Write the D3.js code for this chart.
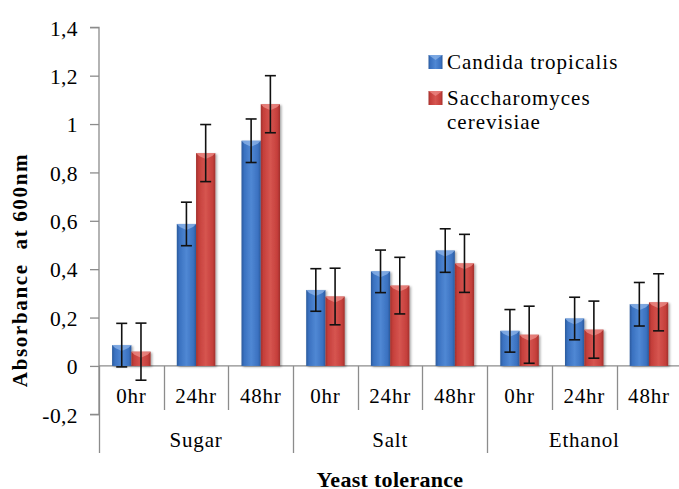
<!DOCTYPE html>
<html>
<head>
<meta charset="utf-8">
<script src="https://cdn.jsdelivr.net/npm/d3@7"></script>
<style>
  html, body { margin: 0; padding: 0; background: #fff; }
  svg { display: block; }
</style>
</head>
<body>
<svg id="chart" width="679" height="489"></svg>
<script>
// Treatments and sampling times
const groups = ["Sugar", "Salt", "Ethanol"];
const hours = ["0hr", "24hr", "48hr"];
const seriesNames = ["Candida tropicalis", "Saccharomyces cerevisiae"];

// Mean absorbance at 600nm, ordered Sugar 0/24/48, Salt 0/24/48, Ethanol 0/24/48
const candida = [0.086, 0.587, 0.931, 0.314, 0.391, 0.477, 0.145, 0.196, 0.255];
const saccharomyces = [0.059, 0.880, 1.082, 0.287, 0.332, 0.424, 0.129, 0.150, 0.263];

// Error bar half-widths
const candidaErr = [0.090, 0.090, 0.090, 0.088, 0.088, 0.090, 0.088, 0.088, 0.090];
const saccharomycesErr = [0.118, 0.118, 0.118, 0.117, 0.117, 0.120, 0.118, 0.118, 0.118];

const yTicks = [-0.2, 0, 0.2, 0.4, 0.6, 0.8, 1, 1.2, 1.4];

const FONT = '"Liberation Serif"';

const svg = d3.select("#chart");
const defs = svg.append("defs");

// Apply the serif face directly on a text selection
const serif = (sel, size, bold, spacing) => sel
  .style("font-family", FONT)
  .style("font-size", size + "px")
  .style("font-weight", bold ? "bold" : "normal")
  .style("letter-spacing", (spacing || 0) + "px")
  .style("fill", "#000");

const colors = [
  { edge: "#2b5a9c", mid: "#3a71c0", light: "#5088d4", top: "#8fb6ea" },
  { edge: "#a1302c", mid: "#c53f3b", light: "#d65550", top: "#ee8f8a" }
];
colors.forEach((c, i) => {
  const g = defs.append("linearGradient").attr("id", "barGrad" + i)
    .attr("x1", "0").attr("x2", "1").attr("y1", "0").attr("y2", "0");
  g.append("stop").attr("offset", "0%").attr("stop-color", c.edge);
  g.append("stop").attr("offset", "14%").attr("stop-color", c.mid);
  g.append("stop").attr("offset", "50%").attr("stop-color", c.light);
  g.append("stop").attr("offset", "86%").attr("stop-color", c.mid);
  g.append("stop").attr("offset", "100%").attr("stop-color", c.edge);
});
const shadow = defs.append("filter").attr("id", "barShadow")
  .attr("x", "-30%").attr("y", "-10%").attr("width", "160%").attr("height", "130%");
shadow.append("feDropShadow").attr("dx", 1.5).attr("dy", 1).attr("stdDeviation", 1.2)
  .attr("flood-color", "#000").attr("flood-opacity", 0.35);

// Scales
const keys = [];
groups.forEach(g => hours.forEach(h => keys.push(g + "|" + h)));

const x = d3.scaleBand().domain(keys).range([99, 681.3]).padding(0);
const xs = d3.scaleBand().domain(seriesNames).range([0, x.bandwidth()])
  .paddingInner(0).paddingOuter(0.68);
const y = d3.scaleLinear().domain([-0.2, 1.4]).range([414.3, 27.3]);

const axisColor = "#8c8c8c";

// Y axis
const yAxis = d3.axisLeft(y).tickValues(yTicks).tickSize(9).tickPadding(12)
  .tickFormat(v => String(+v.toFixed(1)).replace(".", ","));
const yg = svg.append("g").attr("transform", "translate(99,0)").call(yAxis);
yg.select(".domain").attr("stroke", axisColor).attr("stroke-width", 1.3)
  .attr("d", `M-9,${y(1.4)}H0V${y(-0.2)}H-9`);
yg.selectAll(".tick line").attr("stroke", axisColor).attr("stroke-width", 1.3);
serif(yg.selectAll(".tick text"), 21.5, false, 0.4).attr("dy", "0.36em");

// Category axis along y = 0
const xg = svg.append("g");
xg.append("line").attr("x1", 99).attr("x2", 679)
  .attr("y1", y(0)).attr("y2", y(0)).attr("stroke", axisColor).attr("stroke-width", 1.3);

// Dividers between hour bands and between groups
keys.forEach((k, i) => {
  if (i === 0) return;
  const xv = Math.round(x(k)) + 0.5;
  const groupEdge = i % hours.length === 0;
  xg.append("line").attr("x1", xv).attr("x2", xv)
    .attr("y1", y(0)).attr("y2", groupEdge ? 453 : 410)
    .attr("stroke", axisColor).attr("stroke-width", 1.3);
});
xg.append("line").attr("x1", 99.5).attr("x2", 99.5)
  .attr("y1", y(0)).attr("y2", 453).attr("stroke", axisColor).attr("stroke-width", 1.3);

// Hour labels
serif(xg.selectAll("text.hour").data(keys).join("text").attr("class", "hour"), 21, false, 0.8)
  .attr("x", d => x(d) + x.bandwidth() / 2).attr("y", 403)
  .attr("text-anchor", "middle")
  .text(d => d.split("|")[1]);

// Group labels
serif(xg.selectAll("text.group").data(groups).join("text").attr("class", "group"), 21, false, 0.8)
  .attr("x", g => {
    const a = x(g + "|" + hours[0]);
    const b = x(g + "|" + hours[hours.length - 1]) + x.bandwidth();
    return (a + b) / 2;
  })
  .attr("y", 447).attr("text-anchor", "middle")
  .text(g => g);

// Bars
const seriesData = [
  { name: seriesNames[0], values: candida, err: candidaErr },
  { name: seriesNames[1], values: saccharomyces, err: saccharomycesErr }
];

seriesData.forEach((s, si) => {
  const g = svg.append("g");
  const c = colors[si];
  const w = xs.bandwidth();
  keys.forEach((k, i) => {
    const v = s.values[i];
    const x0 = x(k) + xs(s.name);
    const yTop = y(v), yBase = y(0);
    g.append("rect").attr("x", x0).attr("y", yTop)
      .attr("width", w).attr("height", yBase - yTop)
      .attr("fill", `url(#barGrad${si})`).attr("filter", "url(#barShadow)");
    // bevelled top highlight
    g.append("path")
      .attr("d", `M${x0},${yTop}H${x0 + w}L${x0 + w - 3},${yTop + 3}L${x0 + w / 2},${yTop + 6}L${x0 + 3},${yTop + 3}Z`)
      .attr("fill", c.top).attr("opacity", 0.75);
  });
});

// Error bars
seriesData.forEach(s => {
  const g = svg.append("g").attr("stroke", "#111").attr("stroke-width", 1.6);
  const w = xs.bandwidth();
  keys.forEach((k, i) => {
    const cx = x(k) + xs(s.name) + w / 2;
    const hi = y(s.values[i] + s.err[i]);
    const lo = y(s.values[i] - s.err[i]);
    g.append("line").attr("x1", cx).attr("x2", cx).attr("y1", hi).attr("y2", lo);
    g.append("line").attr("x1", cx - 5.5).attr("x2", cx + 5.5).attr("y1", hi).attr("y2", hi);
    g.append("line").attr("x1", cx - 5.5).attr("x2", cx + 5.5).attr("y1", lo).attr("y2", lo);
  });
});

// Axis titles
serif(svg.append("text"), 21, true, 1.65)
  .attr("transform", "translate(26.5,270) rotate(-90)")
  .attr("text-anchor", "middle")
  .style("white-space", "pre")
  .text("Absorbance  at 600nm");
serif(svg.append("text"), 22, true, 0.3)
  .attr("x", 390).attr("y", 486.5).attr("text-anchor", "middle")
  .text("Yeast tolerance");

// Legend
const legend = svg.append("g");
const legendRows = [
  { si: 0, lines: ["Candida tropicalis"], y: 55 },
  { si: 1, lines: ["Saccharomyces", "cerevisiae"], y: 91 }
];
legendRows.forEach(r => {
  legend.append("rect").attr("x", 428.5).attr("y", r.y).attr("width", 14).attr("height", 14)
    .attr("fill", `url(#barGrad${r.si})`);
  legend.append("path")
    .attr("d", `M428.5,${r.y}H442.5L435.5,${r.y + 5}Z`).attr("fill", colors[r.si].top).attr("opacity", 0.7);
  r.lines.forEach((t, li) => {
    serif(legend.append("text"), 21, false, 1.0)
      .attr("x", 447).attr("y", r.y + 14 + li * 23.5)
      .text(t);
  });
});
</script>
</body>
</html>
